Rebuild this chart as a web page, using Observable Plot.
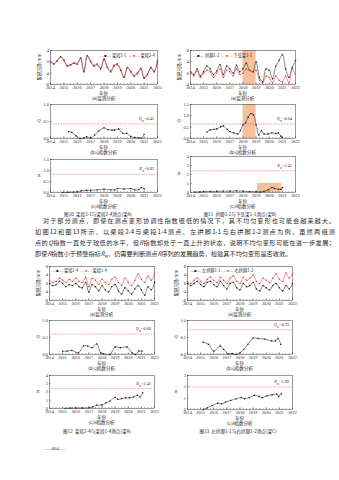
<!DOCTYPE html>
<html><head><meta charset="utf-8">
<script src="https://cdn.jsdelivr.net/npm/d3@7"></script>
<script src="https://cdn.jsdelivr.net/npm/@observablehq/plot@0.6"></script>
<style>
html,body{margin:0;padding:0;background:#fff;}
#page{position:relative;width:339px;height:480px;overflow:hidden;font-family:"Liberation Serif","Noto Sans CJK SC",serif;color:#2a2a2a;}
.abs{position:absolute;white-space:nowrap;line-height:1;}
.cc{transform:translate(-50%,-50%);}
.ml{transform:translate(0,-50%);}
.mr{transform:translate(-100%,-50%);}
.cn{font-family:"Noto Sans CJK SC",sans-serif;}
.line{position:absolute;font-family:"Noto Sans CJK SC",sans-serif;font-size:6.2px;line-height:1;white-space:nowrap;text-align:justify;text-align-last:justify;color:#2a2a2a;}
</style></head><body><div id="page"></div><script>
// ---------- data ----------
const yearTicks = [2014,2015,2016,2017,2018,2019,2020,2021,2022];
const quarters = [2014,2014.25,2014.5,2014.75,2015,2015.25,2015.5,2015.75,2016,2016.25,2016.5,2016.75,2017,2017.25,2017.5,2017.75,2018,2018.25,2018.5,2018.75,2019,2019.25,2019.5,2019.75,2020,2020.25,2020.5,2020.75,2021,2021.25,2021.5,2021.75,2022];

// Fig.10 (a)
const f10aBlack = [0,-0.8,0.3,1.8,0.5,-1.5,-1.0,-0.5,-0.8,1.2,-3.5,2.2,0.0,-1.5,-0.8,-2.5,0.8,-2.0,-3.5,-1.5,-0.8,-3.0,-5.5,-2.0,-3.5,-5.0,-4.0,-2.5,-5.8,-4.5,-2.0,-3.5,0.2];
const f10aRed   = [0.2,-0.6,0.4,1.6,0.7,-1.3,-1.2,-0.3,-0.6,1.4,-3.2,2.0,0.3,-1.2,-1.0,-2.2,1.2,-1.8,-3.2,-1.2,-1.0,-2.8,-5.2,-2.2,-3.2,-4.8,-4.3,-2.2,-5.5,-4.2,-2.3,-3.2,0.5];
// Fig.10 (b) Q
const f10bT = [2015.35,2015.6,2015.9,2016.2,2016.5,2016.7,2017.0,2017.3,2017.6,2018.0,2018.3,2018.6,2018.8,2019.1,2019.4,2019.7,2020.0,2020.3,2020.6,2020.8,2021.0];
const f10bQ = [0.20,0.18,0.08,0.00,0.02,0.05,0.02,0.10,0.22,0.31,0.26,0.25,0.25,0.28,0.15,0.15,0.06,0.03,0.02,0.01,0.12];
// Fig.10 (c) R
const f10cT = [2014.9,2015.3,2015.7,2016.0,2016.3,2016.7,2017.0,2017.5,2018.0,2018.5,2018.8,2019.0,2019.5,2020.0,2020.3,2020.6,2020.8,2021.0];
const f10cR = [0.00,0.01,0.02,0.03,0.08,0.10,0.10,0.12,0.15,0.12,0.12,0.18,0.16,0.18,0.12,0.13,0.22,0.17];

// Fig.11 (a)
const f11aBlack = [0.5,-0.5,1.5,-1.0,0.5,2.5,1.5,-0.5,0.8,3.0,-0.5,2.5,1.5,0.0,2.8,0.5,1.5,3.5,1.0,0.5,4.0,-1.5,-3.0,1.5,1.0,-2.0,2.5,4.5,6.5,1.5,-1.5,2.0,4.5];
const f11aRed   = [0.3,-1.0,0.8,-1.5,0.0,1.0,0.5,-1.5,0.0,1.5,-1.5,1.0,0.5,-1.0,1.5,-0.5,0.0,1.5,1.0,0.5,1.0,-2.5,-3.5,-1.0,-1.5,-3.5,-1.0,-2.5,-3.0,-1.0,-3.5,1.5,-0.5];
const f11Shade = [2018.0, 2019.0];
// Fig.11 (b) Q
const f11bT = [2015.25,2015.5,2015.8,2016.0,2016.3,2016.5,2016.8,2017.0,2017.3,2017.6,2017.8,2018.0,2018.2,2018.4,2018.6,2018.8,2019.0,2019.2,2019.4,2019.6,2019.9,2020.2,2020.5,2020.7,2020.9,2021.0];
const f11bQ = [0.28,0.38,0.40,0.42,0.52,0.55,0.40,0.30,0.25,0.20,0.35,0.60,0.70,0.95,1.10,1.05,0.60,0.15,0.35,0.20,0.20,0.25,0.22,0.25,0.10,0.05];
// Fig.11 (c) R
const f11cT = [2014.3,2014.7,2015.0,2015.5,2016.0,2016.5,2017.0,2017.5,2018.0,2018.5,2019.0,2019.3,2019.6,2019.9,2020.2,2020.4,2020.7,2020.9,2021.0];
const f11cR = [0.05,0.06,0.10,0.12,0.12,0.15,0.15,0.18,0.15,0.10,0.08,0.05,0.12,0.30,0.55,0.45,0.35,0.35,0.55];
const f11cShadeX = [2019.1, 2020.95];
const f11cShadeY = [0, 1];

// Fig.12 (a)
const f12aBlack = [0.0,-1.0,-0.5,1.0,0.0,-1.5,-0.5,-1.0,0.0,-1.5,-2.0,0.5,-4.0,-0.5,-1.5,-3.5,-1.0,-3.0,-4.0,-1.5,-0.5,-3.5,-5.0,-2.0,-3.5,-5.0,-2.5,-1.0,-3.0,-5.5,-1.5,-3.0,0.5];
const f12aRed   = [1.5,0.5,1.0,2.5,1.5,0.5,2.0,1.0,2.5,1.0,0.5,3.0,-1.5,2.5,1.5,-0.5,2.0,0.5,-0.5,2.0,3.0,0.5,-1.0,2.5,0.5,-1.0,1.5,4.5,2.0,0.5,3.5,1.5,4.5];
// Fig.12 (b) Q
const f12bT = [2015.0,2015.35,2015.7,2016.2,2016.6,2016.9,2017.25,2017.6,2017.9,2018.1,2018.6,2019.0,2019.4,2019.9,2020.3,2020.55,2020.8,2021.05];
const f12bQ = [0.09,0.10,0.12,0.05,0.25,0.25,0.20,0.31,0.05,0.02,0.00,0.22,0.20,0.22,0.05,0.00,0.10,0.10];
// Fig.12 (c) R
const f12cT = [2015.2,2015.6,2016.0,2016.5,2017.0,2017.3,2017.6,2018.0,2018.3,2018.6,2019.0,2019.2,2019.5,2019.8,2020.1,2020.4,2020.7,2020.9,2021.1];
const f12cR = [0.02,0.05,0.05,0.06,0.08,0.20,0.40,0.42,0.70,0.90,1.35,1.10,1.20,1.30,1.30,1.40,1.60,1.40,1.90];

// Fig.13 (a)
const f13aBlack = [0.0,-1.0,0.0,1.0,-0.5,-1.5,0.5,1.0,-0.5,-1.5,1.0,-1.0,-2.5,0.0,0.5,-2.0,-3.0,0.0,-1.5,-1.0,0.5,-2.5,-3.5,-1.0,-2.0,-3.0,-1.0,0.0,-2.0,-3.5,-1.0,-2.5,0.0];
const f13aRed   = [1.0,0.0,1.5,2.5,1.0,0.0,2.0,3.0,1.5,0.5,3.0,1.5,0.0,2.5,3.5,1.0,0.0,3.0,1.5,2.5,4.0,1.0,0.0,2.5,1.5,0.5,2.5,4.5,2.0,1.0,5.0,2.5,4.5];
// Fig.13 (b) Q
const f13bT = [2015.2,2015.6,2016.0,2016.5,2016.75,2017.1,2017.4,2017.7,2018.0,2018.3,2018.6,2019.0,2019.4,2019.9,2020.4,2020.7,2020.9,2021.1];
const f13bQ = [0.36,0.30,0.10,0.25,0.15,0.02,0.03,0.00,0.05,0.15,0.30,0.48,0.47,0.45,0.40,0.40,0.47,0.30];
// Fig.13 (c) R
const f13cT = [2015.2,2015.5,2015.9,2016.3,2016.6,2016.9,2017.3,2017.7,2018.1,2018.35,2018.7,2019.1,2019.45,2019.7,2020.05,2020.45,2020.8,2020.95,2021.15];
const f13cR = [0.00,0.15,0.35,0.55,0.50,0.65,0.80,0.94,1.05,0.95,1.05,1.25,1.15,1.05,1.20,1.30,1.35,1.15,1.40];

// thresholds
const thQ = {f10: 0.43, f11: 0.64, f12: 0.60, f13: 0.73};
const thR = {f10: 0.83, f11: 2.41, f12: 2.41, f13: 1.99};
// minor tick grid (quarter years)
const minorTicks = quarters;

// ---------- helpers ----------
const page = document.getElementById("page");
function put(html, x, y, cls, style) {
  const d = document.createElement("div");
  d.className = "abs " + (cls || "");
  d.style.left = x + "px"; d.style.top = y + "px";
  if (style) d.style.cssText += style;
  d.innerHTML = html; page.appendChild(d); return d;
}
const BLACK = "#262626", RED = "#e2403a", DASH = "#ea6a62", SHADE = "#f5c19c";

function panel(o) {
  const ml = 22, mr = 8, mt = 3, mb = 9;
  const w = o.fx1 - o.fx0, h = o.fy1 - o.fy0;
  const ticks = [
    Plot.tickX(minorTicks, {x: d => d, insetTop: h - 1, stroke: "#333", strokeWidth: 0.4}),
    Plot.tickX(yearTicks, {x: d => d, insetTop: h - 1.8, stroke: "#333", strokeWidth: 0.45}),
    Plot.tickY(o.yticks, {y: d => d, insetRight: w - 1.8, stroke: "#333", strokeWidth: 0.45})
  ];
  const p = Plot.plot({
    width: w + ml + mr, height: h + mt + mb,
    marginLeft: ml, marginRight: mr, marginTop: mt, marginBottom: mb,
    style: {fontSize: "4.3px", fontFamily: "Liberation Serif", background: "transparent", color: "#2a2a2a", overflow: "visible"},
    x: {domain: [2014, 2022], ticks: yearTicks, tickFormat: d => String(d), label: null, tickSize: 0, tickPadding: 1.8},
    y: {domain: o.ydom, ticks: o.yticks, tickFormat: o.fmt, label: null, tickSize: 0, tickPadding: 1.6},
    marks: [...(o.under || []), ...ticks, Plot.frame({stroke: "#333", strokeWidth: 0.5}), ...o.marks]
  });
  p.style.position = "absolute";
  p.style.left = (o.fx0 - ml) + "px";
  p.style.top = (o.fy0 - mt) + "px";
  page.appendChild(p);
  const cx = (o.fx0 + o.fx1) / 2;
  put("年份", cx, o.fy1 + 8.7, "cc cn", "font-size:4.3px;");
  put(o.sub, cx, o.fy1 + 14.3, "cc cn", "font-size:4.5px;");
  if (o.ytitle) put(o.ytitle, o.fx0 - 11, (o.fy0 + o.fy1) / 2, "cc cn", "font-size:4.3px;transform:translate(-50%,-50%) rotate(-90deg);");
  if (o.yletter) put(o.yletter, o.fx0 - 11, (o.fy0 + o.fy1) / 2, "cc", "font-size:4.8px;font-style:italic;");
  if (o.th != null) {
    const yy = p.scale("y").apply(o.th) + o.fy0 - mt;
    put(`<i>${o.thName}</i><sub style="font-size:3px">w</sub>=${o.th.toFixed(2)}`, o.fx1 - 3, yy - 3.6, "mr", "font-size:4.3px;");
  }
  return p;
}
function seriesMarks(t, v, color, symbol) {
  const d = t.map((x, i) => ({x, v: v[i]}));
  return [
    Plot.line(d, {x: "x", y: "v", stroke: color, strokeWidth: 0.55, curve: "catmull-rom"}),
    Plot.dot(d, {x: "x", y: "v", symbol, r: 0.75, fill: color, stroke: "none"})
  ];
}
function aPanel(o, blk, red) {
  return panel({...o, fmt: d => String(d),
    marks: [...seriesMarks(quarters, blk, BLACK, "square"), ...seriesMarks(quarters, red, RED, "circle")],
    ytitle: "累积沉降/mm"});
}
function thRule(v) { return Plot.ruleY([v], {stroke: DASH, strokeWidth: 0.6, strokeDasharray: "1.6,1"}); }
function legend(x, y, n1, n2) {
  put(`<span style="color:${BLACK}">—■—</span> <span class="cn">${n1}</span>&nbsp;&nbsp;<span style="color:${RED}">—●—</span> <span class="cn">${n2}</span>`, x, y, "ml", "font-size:4.2px;");
}
const f1 = d => d.toFixed(1), f0 = d => String(d);

// ---------- Fig 10 ----------
aPanel({fx0: 50, fx1: 157, fy0: 50, fy1: 84, ydom: [-8, 4], yticks: [-8, -4, 0, 4], sub: "(a)监测分析"}, f10aBlack, f10aRed);
legend(100, 55.5, "梁段3-1", "梁段2-4");
panel({fx0: 50, fx1: 157, fy0: 104, fy1: 138, ydom: [0, 1], yticks: [0, 0.5, 1], fmt: f1, sub: "(b)<i>Q</i>指数分析", yletter: "Q",
  th: thQ.f10, thName: "Q", marks: [thRule(thQ.f10), ...seriesMarks(f10bT, f10bQ, BLACK, "square")]});
panel({fx0: 50, fx1: 157, fy0: 159, fy1: 192, ydom: [0, 1.5], yticks: [0, 0.5, 1, 1.5], fmt: f1, sub: "(c)<i>R</i>指数分析", yletter: "R",
  th: thR.f10, thName: "R", marks: [thRule(thR.f10), ...seriesMarks(f10cT, f10cR, BLACK, "square")]});
put("图10&nbsp;&nbsp;梁段3-1与梁段2-4测点(梁A)", 98, 214.3, "cc cn", "font-size:4.6px;");

// ---------- Fig 11 ----------
panel({fx0: 190, fx1: 295, fy0: 50, fy1: 84, ydom: [-4, 8], yticks: [-4, 0, 4, 8], fmt: f0, sub: "(a)监测分析", ytitle: "累积沉降/mm",
  under: [Plot.rect([f11Shade], {x1: d => d[0], x2: d => d[1], fill: SHADE})],
  marks: [...seriesMarks(quarters, f11aBlack, BLACK, "square"), ...seriesMarks(quarters, f11aRed, RED, "circle")]});
legend(193, 55.5, "拱脚1-2", "下弦梁1-1");
panel({fx0: 190, fx1: 295, fy0: 104, fy1: 138, ydom: [0, 1.5], yticks: [0, 0.5, 1, 1.5], fmt: f1, sub: "(b)<i>Q</i>指数分析", yletter: "Q",
  under: [Plot.rect([f11Shade], {x1: d => d[0], x2: d => d[1], fill: SHADE})],
  th: thQ.f11, thName: "Q", marks: [thRule(thQ.f11), ...seriesMarks(f11bT, f11bQ, BLACK, "square")]});
panel({fx0: 190, fx1: 295, fy0: 156, fy1: 192, ydom: [0, 4], yticks: [0, 1, 2, 3, 4], fmt: f0, sub: "(c)<i>R</i>指数分析", yletter: "R",
  under: [Plot.rect([0], {x1: () => f11cShadeX[0], x2: () => f11cShadeX[1], y1: () => f11cShadeY[0], y2: () => f11cShadeY[1], fill: SHADE})],
  th: thR.f11, thName: "R", marks: [thRule(thR.f11), ...seriesMarks(f11cT, f11cR, BLACK, "square")]});
put("图11&nbsp;&nbsp;拱脚1-2与下弦梁1-1测点(梁B)", 240, 214.3, "cc cn", "font-size:4.6px;");

// ---------- paragraph ----------
const lines = [
  "对于部分测点，即使在测点变形协调性指数很低的情况下，其不均匀变形也可能会越来越大。",
  "如图12和图13所示，以梁段2-4与梁段1-4测点、左拱脚1-1与右拱脚1-2测点为例，虽然两组测",
  "点的<i>Q</i>指数一直处于较低的水平，但<i>R</i>指数却处于一直上升的状态，说明不均匀变形可能在进一步发展；",
  "即使<i>R</i>指数小于预警指标<i>R</i><sub style='font-size:4px'>w</sub>，仍需要判断测点<i>R</i>序列的发展趋势，检验其不均匀变形是否收敛。"
];
const lineY = [221, 232.3, 243.6, 254.9];
lines.forEach((t, i) => {
  const d = document.createElement("div");
  d.className = "line";
  const x0 = i === 0 ? 43 : 35;
  d.style.left = x0 + "px"; d.style.top = (lineY[i] - 3.5) + "px";
  if (i < 3) d.style.width = (335 - x0) + "px"; else { d.style.textAlignLast = "left"; }
  d.innerHTML = t; page.appendChild(d);
});

// ---------- Fig 12 ----------
aPanel({fx0: 49, fx1: 154, fy0: 266, fy1: 300, ydom: [-8, 8], yticks: [-8, -4, 0, 4, 8], sub: "(a)监测分析"}, f12aBlack, f12aRed);
legend(52, 271, "梁段2-4", "梁段1-4");
panel({fx0: 49, fx1: 154, fy0: 320, fy1: 354, ydom: [0, 1], yticks: [0, 0.5, 1], fmt: f1, sub: "(b)<i>Q</i>指数分析", yletter: "Q",
  th: thQ.f12, thName: "Q", marks: [thRule(thQ.f12), ...seriesMarks(f12bT, f12bQ, BLACK, "square")]});
panel({fx0: 49, fx1: 154, fy0: 375, fy1: 408, ydom: [0, 4], yticks: [0, 1, 2, 3, 4], fmt: f0, sub: "(c)<i>R</i>指数分析", yletter: "R",
  th: thR.f12, thName: "R", marks: [thRule(thR.f12), ...seriesMarks(f12cT, f12cR, BLACK, "square")]});
put("图12&nbsp;&nbsp;梁段2-4与梁段1-4测点(梁A)", 97, 431, "cc cn", "font-size:4.6px;");

// ---------- Fig 13 ----------
aPanel({fx0: 187, fx1: 292, fy0: 266, fy1: 300, ydom: [-8, 8], yticks: [-8, -4, 0, 4, 8], sub: "(a)监测分析"}, f13aBlack, f13aRed);
legend(190, 271, "左拱脚1-1", "右拱脚1-2");
panel({fx0: 187, fx1: 292, fy0: 320, fy1: 354, ydom: [0, 1], yticks: [0, 0.5, 1], fmt: f1, sub: "(b)<i>Q</i>指数分析", yletter: "Q",
  th: thQ.f13, thName: "Q", marks: [thRule(thQ.f13), ...seriesMarks(f13bT, f13bQ, BLACK, "square")]});
panel({fx0: 187, fx1: 292, fy0: 375, fy1: 409, ydom: [0, 3], yticks: [0, 1, 2, 3], fmt: f0, sub: "(c)<i>R</i>指数分析", yletter: "R",
  th: thR.f13, thName: "R", marks: [thRule(thR.f13), ...seriesMarks(f13cT, f13cR, BLACK, "square")]});
put("图13&nbsp;&nbsp;左拱脚1-1与右拱脚1-2测点(梁C)", 238, 431, "cc cn", "font-size:4.6px;");

put("— 404 —", 55, 448, "cc", "font-size:5px;");
</script></body></html>
